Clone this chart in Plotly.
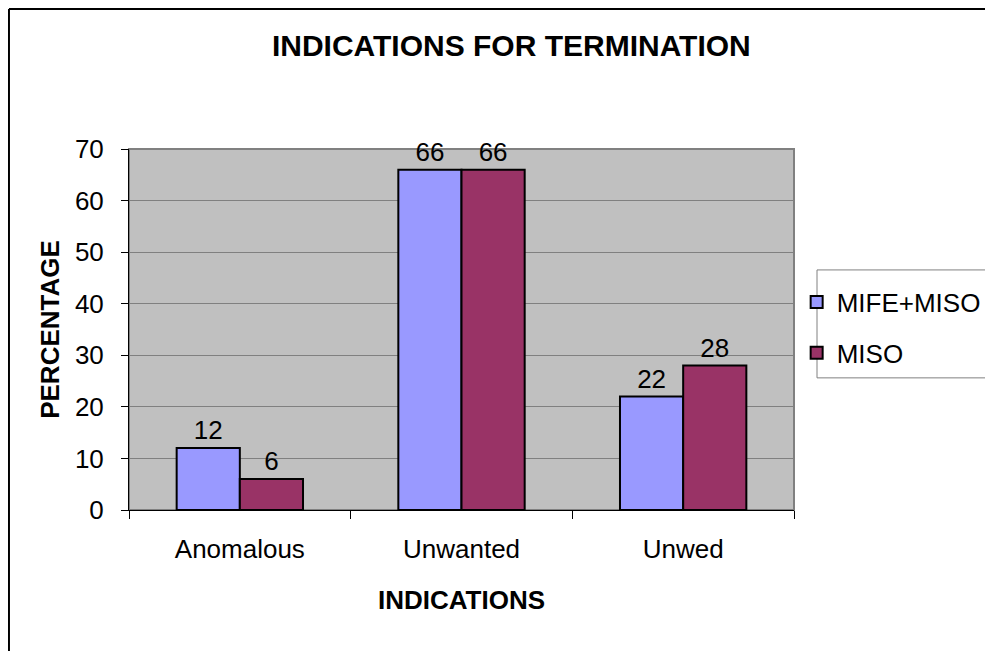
import plotly.graph_objects as go

# data
categories = ["Anomalous", "Unwanted", "Unwed"]
mife_miso = [12, 66, 22]
miso = [6, 66, 28]

FONT = "Liberation Sans, Arial, sans-serif"

fig = go.Figure()
fig.add_trace(go.Bar(
    x=categories, y=mife_miso, name="MIFE+MISO", legendgroup="a",
    marker=dict(color="#9999FF", line=dict(color="black", width=2)),
    text=mife_miso, textposition="outside", cliponaxis=False,
    textfont=dict(size=26, color="black"),
))
fig.add_trace(go.Bar(
    x=categories, y=miso, name="MISO", legendgroup="b",
    marker=dict(color="#993366", line=dict(color="black", width=2)),
    text=miso, textposition="outside", cliponaxis=False,
    textfont=dict(size=26, color="black"),
))

# page body has an 8px margin, so the figure is drawn 8px smaller
fig.update_layout(
    width=985, height=643,
    margin=dict(l=121, r=199, t=141, b=141, autoexpand=False),
    paper_bgcolor="white", plot_bgcolor="#C0C0C0",
    font=dict(family=FONT, size=26, color="black"),
    barmode="group", bargap=0.43, bargroupgap=0,
    title=dict(text="<b>INDICATIONS FOR TERMINATION</b>", x=0.511, xanchor="center",
               y=0.942, yanchor="middle", font=dict(size=30)),
    legend=dict(x=1.004, xanchor="left", y=0.641, yanchor="top",
                borderwidth=0, bgcolor="rgba(0,0,0,0)",
                traceorder="grouped", tracegroupgap=14,
                font=dict(size=26), itemwidth=30),
    showlegend=True,
)

fig.update_yaxes(
    range=[0, 70], dtick=10, showgrid=True, gridcolor="#808080", gridwidth=1,
    showline=True, linecolor="black", linewidth=1,
    ticks="outside", ticklen=7, tickcolor="black", ticklabelstandoff=12,
    title=dict(text="<b>PERCENTAGE</b>", font=dict(size=26), standoff=7),
    zeroline=False,
)
fig.update_xaxes(
    showline=True, linecolor="black", linewidth=1,
    ticks="outside", ticklen=8, tickcolor="black", tickson="boundaries",
    ticklabelstandoff=16,
    title=dict(text="<b>INDICATIONS</b>", font=dict(size=26), standoff=27),
)

# gray border around the plot area
fig.add_shape(type="rect", xref="paper", yref="paper", x0=0, x1=1, y0=0, y1=1,
              line=dict(color="#808080", width=2), layer="below")
# legend box
fig.add_shape(type="rect", xref="paper", yref="paper", x0=1.0346, x1=1.6, y0=0.366, y1=0.665,
              line=dict(color="#808080", width=1), fillcolor="white", layer="below")
# outer chart border (left and top edges visible)
fig.add_shape(type="line", xref="paper", yref="paper", x0=-0.1805, x1=-0.1805, y0=-0.5, y1=1.388,
              line=dict(color="black", width=2))
fig.add_shape(type="line", xref="paper", yref="paper", x0=-0.1805, x1=1.6, y0=1.388, y1=1.388,
              line=dict(color="black", width=2))

fig.write_html("out.html")
